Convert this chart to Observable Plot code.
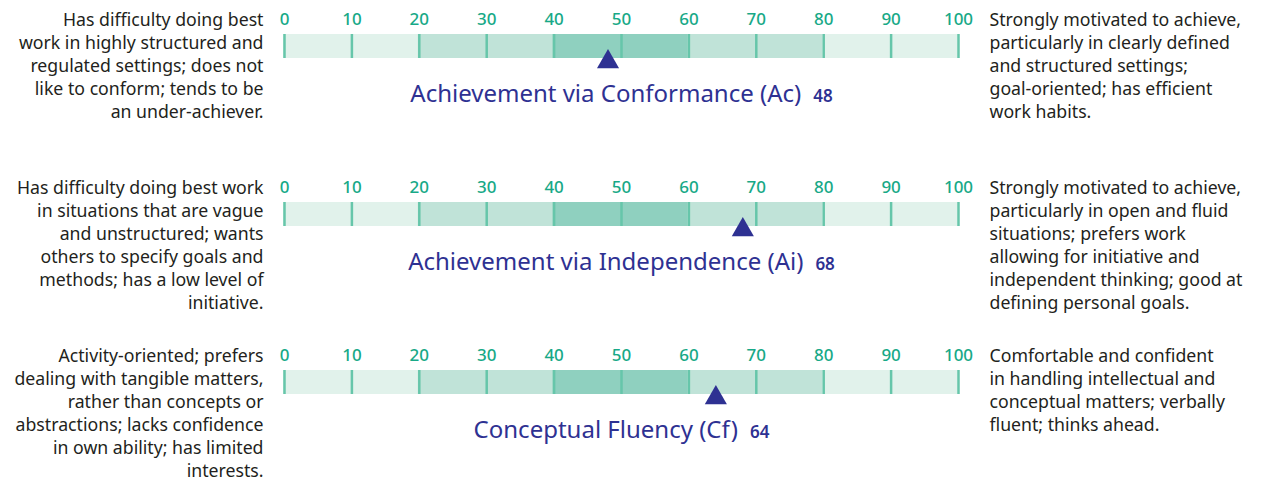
<!DOCTYPE html>
<html>
<head>
<meta charset="utf-8">
<script src="https://cdn.jsdelivr.net/npm/d3@7"></script>
<script src="https://cdn.jsdelivr.net/npm/@observablehq/plot@0.6"></script>
<style>
  html, body { margin: 0; padding: 0; background: #fff; overflow: hidden; }
</style>
</head>
<body>
<div id="chart"></div>
<script>
// ---- Data ----
const scaleNames = [
  "Achievement via Conformance (Ac)",
  "Achievement via Independence (Ai)",
  "Conceptual Fluency (Cf)"
];
const scores = [48, 68, 64];
const lowDescriptions = [
  "Has difficulty doing best\nwork in highly structured and\nregulated settings; does not\nlike to conform; tends to be\nan under-achiever.",
  "Has difficulty doing best work\nin situations that are vague\nand unstructured; wants\nothers to specify goals and\nmethods; has a low level of\ninitiative.",
  "Activity-oriented; prefers\ndealing with tangible matters,\nrather than concepts or\nabstractions; lacks confidence\nin own ability; has limited\ninterests."
];
const highDescriptions = [
  "Strongly motivated to achieve,\nparticularly in clearly defined\nand structured settings;\ngoal-oriented; has efficient\nwork habits.",
  "Strongly motivated to achieve,\nparticularly in open and fluid\nsituations; prefers work\nallowing for initiative and\nindependent thinking; good at\ndefining personal goals.",
  "Comfortable and confident\nin handling intellectual and\nconceptual matters; verbally\nfluent; thinks ahead."
];
const tickValues = [0, 10, 20, 30, 40, 50, 60, 70, 80, 90, 100];
const bandStarts = [0, 20, 40, 60, 80];
const bandEnds = [20, 40, 60, 80, 100];
const bandShades = ["light", "mid", "dark", "mid", "light"];

// ---- Tables built from the arrays ----
const rows = scaleNames.map((name, i) => ({
  scale: name, score: scores[i], low: lowDescriptions[i], high: highDescriptions[i]
}));
const tickRows = scaleNames.flatMap(name => tickValues.map(v => ({scale: name, value: v})));
const bandRows = scaleNames.flatMap(name => bandStarts.map((s, j) => ({
  scale: name, x1: s, x2: bandEnds[j], shade: bandShades[j]
})));

// ---- Layout (pixels within each row) ----
const ROW_H = 168.5;
const TICK_Y = 18.5, BAR_TOP = 33, BAR_BOTTOM = 57, MARKER_Y = 60.3, TITLE_Y = 93, DESC_Y = 8;

const FONT = "'Noto Sans', sans-serif";
const TEAL = "#18a987";
const NAVY = "#2e3192";
const TEXT = "#231f20";

const chart = Plot.plot({
  width: 1267,
  height: 479,
  marginLeft: 284,
  marginRight: 309,
  marginTop: 0,
  marginBottom: 0,
  style: {fontFamily: FONT, background: "#fff"},
  x: {domain: [0, 100], axis: null},
  y: {domain: [0, ROW_H], range: [0, ROW_H], axis: null},
  fy: {domain: scaleNames, range: [0, ROW_H * 3], padding: 0, axis: null},
  color: {domain: ["light", "mid", "dark"], range: ["#e1f2eb", "#c0e3d8", "#8fd0bf"]},
  marks: [
    Plot.rect(bandRows, {x1: "x1", x2: "x2", y1: BAR_TOP, y2: BAR_BOTTOM, fy: "scale", fill: "shade", insetLeft: -1, insetRight: -1}),
    Plot.ruleX(tickRows, {x: "value", y1: BAR_TOP, y2: BAR_BOTTOM, fy: "scale", stroke: "#66c6aa", strokeWidth: 2.5}),
    Plot.text(tickRows, {x: "value", y: TICK_Y, fy: "scale", text: d => String(d.value),
      fill: TEAL, fontSize: 17, fontWeight: 500, textAnchor: "middle", lineAnchor: "middle"}),
    Plot.dot(rows, {x: "score", y: MARKER_Y, fy: "scale", symbol: "triangle", r: 8.2, fill: NAVY, stroke: "none"}),
    Plot.text(rows, {
      x: 50, y: TITLE_Y, fy: "scale", text: "scale", fill: NAVY, fontSize: 24,
      textAnchor: "middle", lineAnchor: "middle",
      render(index, scales, values, dimensions, context, next) {
        const g = next(index, scales, values, dimensions, context);
        d3.select(g).selectAll("text").each(function (i) {
          d3.select(this).append("tspan")
            .attr("dx", 12)
            .attr("font-size", 17)
            .attr("font-weight", 600)
            .text(String(rows[i].score));
        });
        return g;
      }
    }),
    Plot.text(rows, {frameAnchor: "left", y: DESC_Y, fy: "scale", text: "low", dx: -21,
      textAnchor: "end", lineAnchor: "top", lineHeight: 1.3, fontSize: 17.7, fill: TEXT}),
    Plot.text(rows, {frameAnchor: "right", y: DESC_Y, fy: "scale", text: "high", dx: 31,
      textAnchor: "start", lineAnchor: "top", lineHeight: 1.3, fontSize: 17.7, fill: TEXT})
  ]
});
document.getElementById("chart").append(chart);
</script>
</body>
</html>
